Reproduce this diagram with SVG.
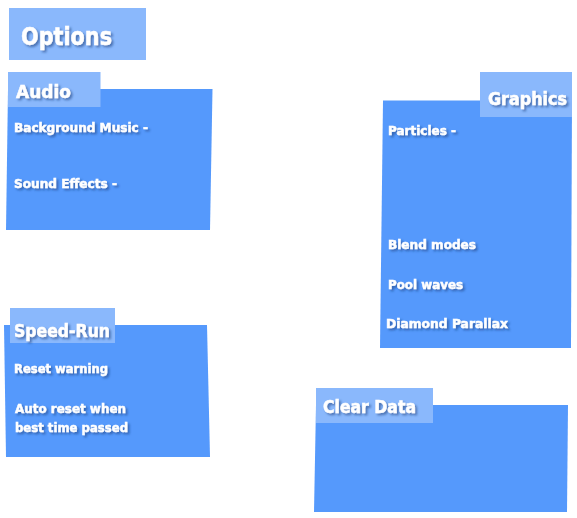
<svg xmlns="http://www.w3.org/2000/svg" width="577" height="518" viewBox="0 0 577 518">
<defs>
<filter id="sh" x="-10%" y="-30%" width="130%" height="180%">
<feGaussianBlur in="SourceAlpha" stdDeviation="1.2"/>
<feOffset dx="1.5" dy="1.5" result="b"/>
<feFlood flood-color="#1a3c7a" flood-opacity="0.55"/>
<feComposite in2="b" operator="in"/>
<feMerge><feMergeNode/><feMergeNode in="SourceGraphic"/></feMerge>
</filter>
</defs>
<style>
.panel{fill:#5599fc}
.tab{fill:#8ab8fc}
text{font-family:"DejaVu Sans","Liberation Sans",sans-serif;font-weight:bold;fill:#ffffff;stroke:#ffffff;stroke-width:0.5;filter:url(#sh)}
.t{font-size:12.5px}
.h{font-size:17.5px}
</style>
<rect width="577" height="518" fill="#ffffff"/>
<g id="options">
<rect class="tab" x="9" y="8" width="137" height="52"/>
<text x="21" y="45" style="font-size:24px" textLength="91" lengthAdjust="spacingAndGlyphs">Options</text>
</g>
<g id="audio">
<polygon class="panel" points="8,89 212.5,89 210,230 6,230"/>
<rect class="tab" x="8" y="72" width="92.5" height="35"/>
<text class="h" x="16" y="97.5" textLength="55" lengthAdjust="spacingAndGlyphs">Audio</text>
<text class="t" x="14" y="132" textLength="134" lengthAdjust="spacingAndGlyphs">Background Music -</text>
<text class="t" x="14" y="188" textLength="103" lengthAdjust="spacingAndGlyphs">Sound Effects -</text>
</g>
<g id="graphics">
<polygon class="panel" points="383,100.5 572,100.5 571,348 380,348"/>
<rect class="tab" x="480" y="72" width="92" height="45"/>
<text class="h" x="488" y="105" textLength="79" lengthAdjust="spacingAndGlyphs">Graphics</text>
<text class="t" x="388" y="135" textLength="68" lengthAdjust="spacingAndGlyphs">Particles -</text>
<text class="t" x="388" y="249" textLength="88" lengthAdjust="spacingAndGlyphs">Blend modes</text>
<text class="t" x="388" y="289" textLength="75" lengthAdjust="spacingAndGlyphs">Pool waves</text>
<text class="t" x="386" y="328" textLength="122" lengthAdjust="spacingAndGlyphs">Diamond Parallax</text>
</g>
<g id="speedrun">
<polygon class="panel" points="4,325 207,325 210,457 6,457"/>
<rect class="tab" x="10" y="308" width="105" height="35"/>
<text class="h" x="14" y="337" textLength="96" lengthAdjust="spacingAndGlyphs">Speed-Run</text>
<text class="t" x="14" y="373" textLength="94" lengthAdjust="spacingAndGlyphs">Reset warning</text>
<text class="t" x="15" y="413" textLength="111" lengthAdjust="spacingAndGlyphs">Auto reset when</text>
<text class="t" x="15" y="432" textLength="113" lengthAdjust="spacingAndGlyphs">best time passed</text>
</g>
<g id="cleardata">
<polygon class="panel" points="316,405 568,405 567,512 314,512"/>
<rect class="tab" x="316" y="388" width="117" height="35"/>
<text class="h" x="323" y="413" textLength="93" lengthAdjust="spacingAndGlyphs">Clear Data</text>
</g>
<g id="connectors"/>
</svg>
